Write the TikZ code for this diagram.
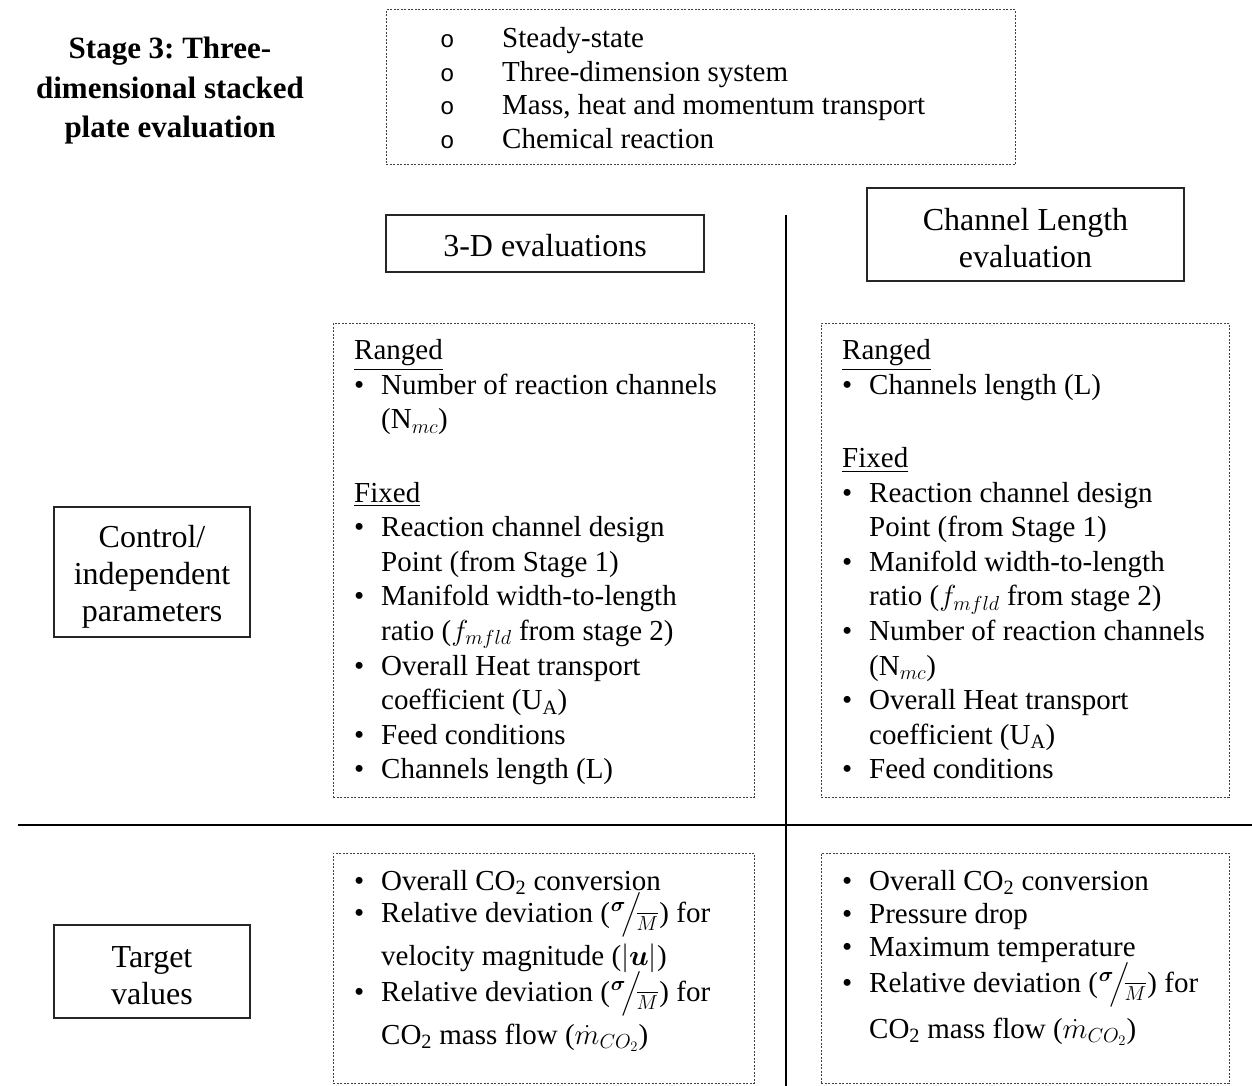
\RequirePackage{fix-cm}
\documentclass[tikz,border=0pt]{standalone}
\usepackage{amsmath}
\usepackage{fontspec}
\setmainfont{Liberation Serif}
\newfontfamily\monofnt{Liberation Mono}
\usepackage{bm}
\frenchspacing
\newcommand\bl{\makebox[27pt][l]{•}}
\newcommand\ct{\hspace*{27pt}}
\newcommand\ob{\makebox[62pt][l]{\monofnt\fontsize{24}{24}\selectfont o}}
\newcommand\rdev{(\kern1pt$\smash{{}^{\bm{\sigma}}\!\big/\!_{\overline{M}}}$\kern1pt)}
\begin{document}
\begin{tikzpicture}[x=1pt,y=-1pt,
  solidbox/.style={draw=black!85, line width=1.2pt, inner sep=0pt},
  label/.style={inner sep=0pt, align=center, font=\fontsize{32}{37}\selectfont},
  dotbox/.style={draw=black!75, line width=1pt, dash pattern=on 2pt off 1.5pt, inner sep=0pt},
  rulel/.style={line width=2pt, black},
  body/.style={anchor=north west, inner sep=0pt, align=left, font=\fontsize{29}{34.6}\selectfont},
  bodyb/.style={anchor=north west, inner sep=0pt, align=left, font=\fontsize{29}{33}\selectfont},
  bodyt/.style={anchor=north west, inner sep=0pt, align=left, font=\fontsize{29}{33.5}\selectfont}]
\useasboundingbox (0,0) rectangle (1252,1086);

% title
\node[align=center, inner sep=0pt, font=\fontsize{31}{39.5}\selectfont\bfseries] (title) at (170,91)
  {Stage 3: Three-\\dimensional stacked\\plate evaluation};

% top assumptions box
\node[dotbox, minimum width=629pt, minimum height=155pt] (topbox) at (700.5,87.5) {};
\node[bodyt] (toptext) at (440,24)
  {\strut\ob Steady-state\\
   \ob Three-dimension system\\
   \ob Mass, heat and momentum transport\\
   \ob Chemical reaction};

% column headers
\node[solidbox, minimum width=318pt, minimum height=57pt] (threed) at (545,243.5) {};
\node[label] (threedt) at (545,246) {3-D evaluations};
\node[solidbox, minimum width=317pt, minimum height=93pt] (chlen) at (1025.5,234.5) {};
\node[label] (chlent) at (1025.5,238) {Channel Length\\evaluation};

% row headers
\node[solidbox, minimum width=196pt, minimum height=130pt] (ctrl) at (152,572) {};
\node[label] (ctrlt) at (152,577) {Control/\\independent\\parameters};
\node[solidbox, minimum width=196pt, minimum height=93pt] (target) at (152,971.5) {};
\node[label] (targett) at (152,976) {Target\\values};

% dividing lines
\coordinate (vtop) at (786,215);
\coordinate (vbot) at (786,1086);
\coordinate (hl) at (18,825);
\coordinate (hr) at (1252,825);
\draw[rulel] (vtop) -- (vbot);
\draw[rulel] (hl) -- (hr);

% middle boxes
\node[dotbox, minimum width=421pt, minimum height=474pt] (midl) at (543.5,560) {};
\node[dotbox, minimum width=408pt, minimum height=474pt] (midr) at (1025,560) {};
\node[body] (midltext) at (354,335.3)
  {\strut\underline{Ranged}\\
   \bl Number of reaction channels\\
   \ct (N$_{mc}$)\\[38.6pt]
   \underline{Fixed}\\
   \bl Reaction channel design\\
   \ct Point (from Stage 1)\\
   \bl Manifold width-to-length\\
   \ct ratio ($f_{mfld}$ from stage 2)\\
   \bl Overall Heat transport\\
   \ct coefficient (U$_{\mathrm{A}}$)\\
   \bl Feed conditions\\
   \bl Channels length (L)};
\node[body] (midrtext) at (842,335.3)
  {\strut\underline{Ranged}\\
   \bl Channels length (L)\\[38.6pt]
   \underline{Fixed}\\
   \bl Reaction channel design\\
   \ct Point (from Stage 1)\\
   \bl Manifold width-to-length\\
   \ct ratio ($f_{mfld}$ from stage 2)\\
   \bl Number of reaction channels\\
   \ct (N$_{mc}$)\\
   \bl Overall Heat transport\\
   \ct coefficient (U$_{\mathrm{A}}$)\\
   \bl Feed conditions};

% bottom boxes
\node[dotbox, minimum width=421pt, minimum height=230pt] (botl) at (543.5,968) {};
\node[dotbox, minimum width=408pt, minimum height=230pt] (botr) at (1025,968) {};
\node[bodyb] (botltext) at (354,866.9)
  {\strut\bl Overall CO\textsubscript{2} conversion\\[-1pt]
   \bl Relative deviation \rdev{} for\\[10pt]
   \ct velocity magnitude ($|\bm{u}|$)\\[3pt]
   \bl Relative deviation \rdev{} for\\[10pt]
   \ct CO\textsubscript{2} mass flow ($\dot{m}_{CO_2}$)};
\node[bodyb] (botrtext) at (842,866.9)
  {\strut\bl Overall CO\textsubscript{2} conversion\\
   \bl Pressure drop\\
   \bl Maximum temperature\\[3pt]
   \bl Relative deviation \rdev{} for\\[13pt]
   \ct CO\textsubscript{2} mass flow ($\dot{m}_{CO_2}$)};
\end{tikzpicture}
\end{document}
